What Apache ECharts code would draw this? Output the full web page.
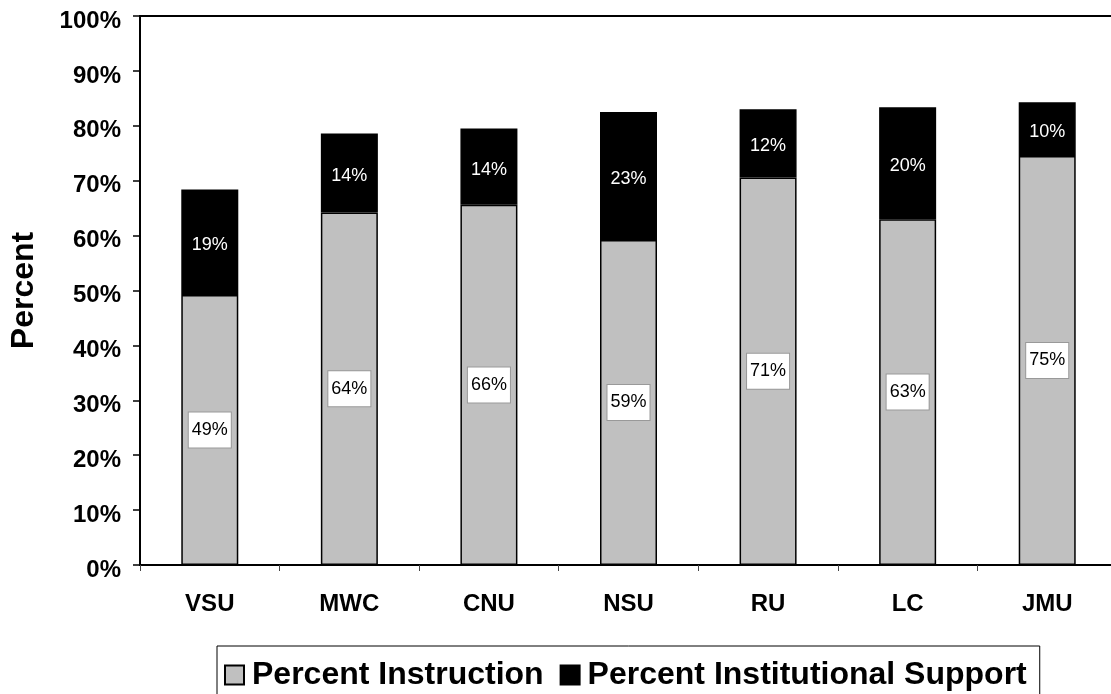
<!DOCTYPE html>
<html>
<head>
<meta charset="utf-8">
<script src="https://cdn.jsdelivr.net/npm/echarts@6/dist/echarts.min.js"></script>
<style>
  html, body { margin: 0; padding: 0; background: #fff; }
  #chart { width: 1111px; height: 694px; }
</style>
</head>
<body>
<div id="chart"></div>
<script>
// Institutions along the x axis
const categories = ['VSU', 'MWC', 'CNU', 'NSU', 'RU', 'LC', 'JMU'];
// Share of spending on instruction (%)
const instruction = [49.2, 64.2, 65.6, 59.2, 70.6, 63.0, 74.5];
// Share of spending on institutional support (%)
const institutionalSupport = [19.2, 14.4, 13.9, 23.3, 12.4, 20.4, 9.8];
const seriesNames = ['Percent Instruction', 'Percent Institutional Support'];
const yTicks = { min: 0, max: 100, interval: 10 };

const FONT = 'Arial, "Liberation Sans", sans-serif';
const chart = echarts.init(document.getElementById('chart'));

const pct = p => Math.round(p.value) + '%';

chart.setOption({
  animation: false,
  backgroundColor: '#fff',
  grid: {
    left: 140, top: 16, right: -6, bottom: 129,
    outerBoundsMode: 'none',
    show: true, borderColor: '#000', borderWidth: 2, backgroundColor: 'transparent'
  },
  legend: {
    left: 217, top: 646,
    padding: [13, 13, 30, 7],
    borderColor: '#000', borderWidth: 1, backgroundColor: '#fff',
    itemWidth: 19, itemHeight: 19, itemGap: 16,
    icon: 'rect',
    textStyle: {
      fontFamily: FONT, fontSize: 32, fontWeight: 'bold', color: '#000',
      padding: [0, 0, 0, 3]
    },
    data: seriesNames
  },
  xAxis: {
    type: 'category',
    data: categories,
    axisLine: { lineStyle: { color: '#000', width: 2 } },
    axisTick: { show: true, length: 6, lineStyle: { color: '#444', width: 1 } },
    axisLabel: { margin: 27, fontFamily: FONT, fontSize: 24, fontWeight: 'bold', color: '#000' },
    splitLine: { show: false }
  },
  yAxis: {
    type: 'value',
    min: yTicks.min, max: yTicks.max, interval: yTicks.interval,
    name: 'Percent',
    nameLocation: 'middle',
    nameRotate: 90,
    nameGap: 100,
    nameTextStyle: { fontFamily: FONT, fontSize: 32, fontWeight: 'bold', color: '#000' },
    axisLine: { show: true, lineStyle: { color: '#000', width: 2 } },
    axisTick: { show: true, length: 7, lineStyle: { color: '#000', width: 1.5 } },
    axisLabel: {
      margin: 19, formatter: '{value}%', fontFamily: FONT, fontSize: 24, fontWeight: 'bold', color: '#000',
      verticalAlign: 'top', lineHeight: 10
    },
    splitLine: { show: false }
  },
  series: [
    {
      name: seriesNames[0],
      type: 'bar',
      stack: 'total',
      barWidth: 57,
      data: instruction,
      itemStyle: { color: '#C0C0C0', borderColor: '#000', borderWidth: 1.5 },
      label: {
        show: true, position: 'inside', formatter: pct,
        fontFamily: FONT, fontSize: 18, color: '#000',
        backgroundColor: '#fff', borderColor: '#999', borderWidth: 1,
        padding: [9, 3, 8, 3]
      }
    },
    {
      name: seriesNames[1],
      type: 'bar',
      stack: 'total',
      barWidth: 57,
      data: institutionalSupport,
      itemStyle: { color: '#000', borderColor: '#000', borderWidth: 1.5 },
      label: {
        show: true, position: 'inside', formatter: pct, offset: [0, 3],
        fontFamily: FONT, fontSize: 18, color: '#fff'
      }
    }
  ]
});
</script>
</body>
</html>
